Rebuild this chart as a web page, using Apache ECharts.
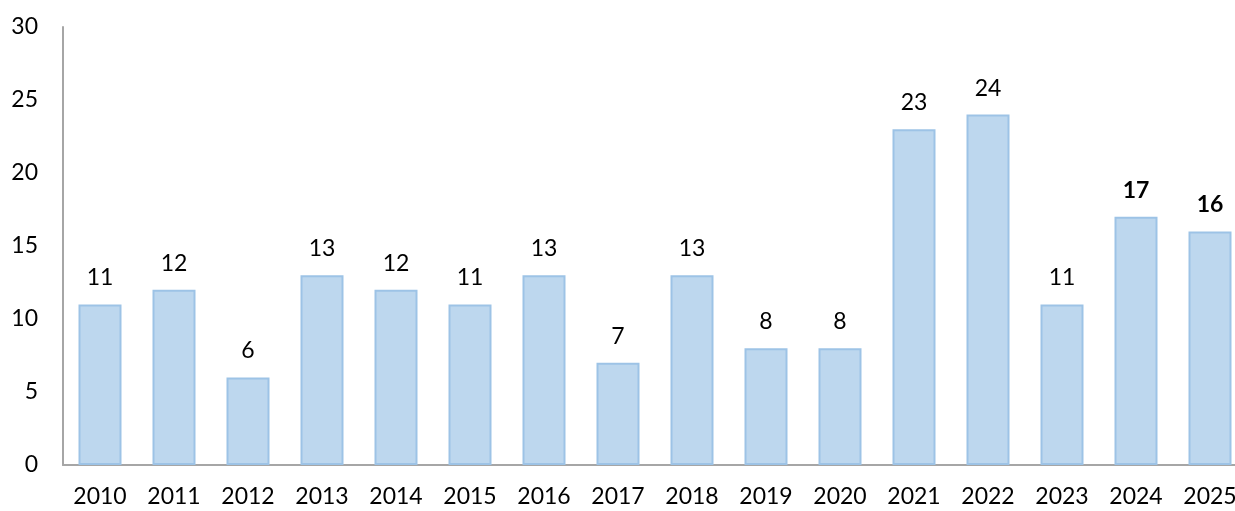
<!DOCTYPE html>
<html lang="en">
<head>
  <meta charset="UTF-8">
  <script src="https://cdn.jsdelivr.net/npm/echarts@6.0.0/dist/echarts.min.js"></script>
  <style>body{margin:0;background:#fff;}</style>
</head>
<body>
  <div id="main" style="width:1235px;height:511px;"></div>
  <script type="text/javascript">
    // years and counts
    const years = ['2010', '2011', '2012', '2013', '2014', '2015', '2016', '2017',
      '2018', '2019', '2020', '2021', '2022', '2023', '2024', '2025'];
    const counts = [11, 12, 6, 13, 12, 11, 13, 7, 13, 8, 8, 23, 24, 11, 17, 16];
    const boldYears = ['2024', '2025'];

    const font = 'Lato, "Open Sans", sans-serif';
    const chart = echarts.init(document.getElementById('main'));

    chart.setOption({
      animation: false,
      // plot area runs a little past the right edge, as in the original
      grid: { left: 63, width: 1184, top: 27, bottom: 46, outerBoundsMode: 'none', containLabel: false },
      xAxis: {
        type: 'category',
        data: years,
        axisLine: { lineStyle: { color: '#a6a6a6', width: 2 } },
        axisTick: { show: false },
        axisLabel: { color: '#000', fontSize: 23, fontFamily: font, margin: 20 }
      },
      yAxis: {
        type: 'value',
        min: 0, max: 30, interval: 5,
        splitLine: { show: false },
        axisLine: { show: true, lineStyle: { color: '#a6a6a6', width: 2 } },
        axisTick: { show: false },
        axisLabel: { color: '#000', fontSize: 23, fontFamily: font, margin: 25 }
      },
      series: [{
        type: 'bar',
        barWidth: 43,
        data: counts.map((v, i) => ({
          value: v,
          label: { fontWeight: boldYears.includes(years[i]) ? 'bold' : 'normal' }
        })),
        itemStyle: { color: '#bdd7ee', borderColor: '#9dc3e6', borderWidth: 2 },
        label: {
          show: true, position: 'top', distance: 15,
          color: '#000', fontSize: 23, fontFamily: font
        }
      }]
    });
  </script>
</body>
</html>
